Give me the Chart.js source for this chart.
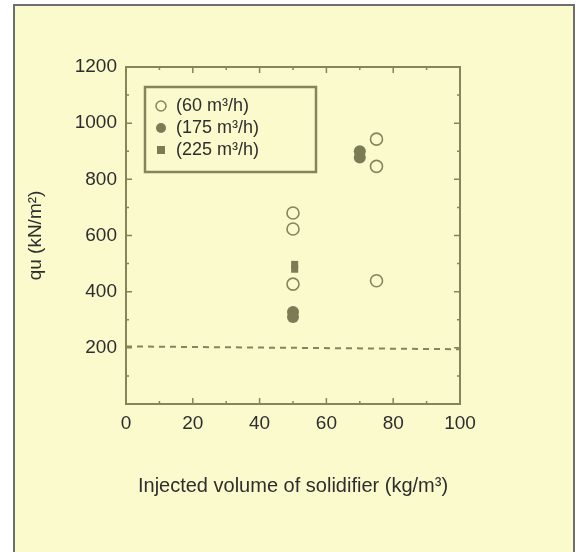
<!DOCTYPE html>
<html>
<head>
<meta charset="utf-8">
<script src="https://cdn.jsdelivr.net/npm/chart.js@4"></script>
<style>
  html, body { margin: 0; padding: 0; background: #ffffff; }
  #frame {
    position: absolute; left: 13px; top: 4px; width: 558px; height: 560px;
    background: #fafacd; border: 2px solid #6e6e6e; border-bottom: none;
  }
  #wrap { position: absolute; left: 0; top: 0; width: 579px; height: 552px; }
</style>
</head>
<body>
<div id="frame"></div>
<div id="wrap"><canvas id="qu" width="579" height="552"></canvas></div>
<script>
    // valeurs
    const xTicks = [0, 20, 40, 60, 80, 100];
    const yTicks = [200, 400, 600, 800, 1000, 1200];

    const labels60 = "(60 m³/h)";
    const x60 = [75, 75, 50, 50, 50, 75];
    const y60 = [943, 846, 680, 623, 427, 439];

    const labels175 = "(175 m³/h)";
    const x175 = [70, 70, 50, 50];
    const y175 = [900, 878, 328, 310];

    const labels225 = "(225 m³/h)";
    const x225 = [50.5, 50.5];
    const y225 = [497, 480];

    const limiteX = [0, 100];
    const limiteY = [205, 195];

    const olive = "#85855b";
    const dark = "#7b7b55";
    const textColor = "#2e2e2e";
    const police = "'Liberation Sans', Arial, sans-serif";

    function points(xs, ys) {
        let res = [];
        for (let i = 0; i < xs.length; i++) {
            res.push({ x: xs[i], y: ys[i] });
        }
        return res;
    }

    // cadre + graduations vers l'intérieur sur les 4 côtés
    const cadre = {
        id: "cadre",
        afterDatasetsDraw(chart) {
            const ctx = chart.ctx;
            const a = chart.chartArea;
            const sx = chart.scales.x;
            const sy = chart.scales.y;
            ctx.save();
            ctx.strokeStyle = olive;
            ctx.lineWidth = 2;
            ctx.strokeRect(a.left, a.top, a.right - a.left, a.bottom - a.top);
            ctx.lineWidth = 1.5;
            ctx.beginPath();
            for (let v = 0; v <= 100; v += 10) {
                let px = sx.getPixelForValue(v);
                let l = (v % 20 === 0) ? 6 : 3;
                ctx.moveTo(px, a.bottom); ctx.lineTo(px, a.bottom - l);
                ctx.moveTo(px, a.top); ctx.lineTo(px, a.top + l);
            }
            for (let v = 0; v <= 1200; v += 100) {
                let py = sy.getPixelForValue(v);
                let l = (v % 200 === 0) ? 6 : 3;
                ctx.moveTo(a.left, py); ctx.lineTo(a.left + l, py);
                ctx.moveTo(a.right, py); ctx.lineTo(a.right - l, py);
            }
            ctx.stroke();

            // légende dans un cadre
            ctx.lineWidth = 2.5;
            ctx.strokeRect(145, 87, 171, 85);
            const items = [
                { label: labels60, style: "circle", fill: false },
                { label: labels175, style: "circle", fill: true },
                { label: labels225, style: "rect", fill: true }
            ];
            ctx.font = "18px " + police;
            ctx.textBaseline = "middle";
            for (let i = 0; i < items.length; i++) {
                let y = 106 + i * 22;
                ctx.beginPath();
                if (items[i].style === "circle") {
                    ctx.arc(161, y, 5, 0, Math.PI * 2);
                } else {
                    ctx.rect(157, y - 4, 8, 8);
                }
                if (items[i].fill) {
                    ctx.fillStyle = dark;
                    ctx.fill();
                } else {
                    ctx.lineWidth = 1.5;
                    ctx.strokeStyle = olive;
                    ctx.stroke();
                }
                ctx.fillStyle = textColor;
                ctx.fillText(items[i].label, 176, y);
            }
            ctx.restore();
        }
    };

    const chart = new Chart(document.getElementById("qu"), {
        type: "scatter",
        data: {
            datasets: [
                {
                    label: labels60,
                    data: points(x60, y60),
                    pointStyle: "circle",
                    pointRadius: 6,
                    pointBorderWidth: 1.6,
                    borderColor: olive,
                    backgroundColor: "rgba(0,0,0,0)"
                },
                {
                    label: labels175,
                    data: points(x175, y175),
                    pointStyle: "circle",
                    pointRadius: 6,
                    pointBorderWidth: 0,
                    borderColor: dark,
                    backgroundColor: dark
                },
                {
                    label: labels225,
                    data: points(x225, y225),
                    pointStyle: "rect",
                    pointRadius: 5,
                    pointBorderWidth: 0,
                    borderColor: dark,
                    backgroundColor: dark
                },
                {
                    label: "limite",
                    type: "line",
                    data: points(limiteX, limiteY),
                    borderColor: olive,
                    borderWidth: 2,
                    borderDash: [6, 5],
                    pointRadius: 0,
                    fill: false
                }
            ]
        },
        options: {
            responsive: false,
            animation: false,
            devicePixelRatio: 1,
            layout: { padding: { left: 24, right: 119, top: 67, bottom: 54 } },
            plugins: {
                legend: { display: false },
                tooltip: { enabled: false }
            },
            scales: {
                x: {
                    type: "linear",
                    min: 0,
                    max: 100,
                    afterBuildTicks: (s) => { s.ticks = xTicks.map(v => ({ value: v })); },
                    afterFit: (s) => { s.height = 94; },
                    grid: { display: false, drawTicks: false },
                    border: { display: false },
                    ticks: {
                        color: textColor,
                        padding: 8,
                        callback: (v) => String(v),
                        font: { family: police, size: 19 }
                    },
                    title: {
                        display: true,
                        text: "Injected volume of solidifier (kg/m³)",
                        color: textColor,
                        padding: { top: 0, bottom: 0 },
                        font: { family: police, size: 20 }
                    }
                },
                y: {
                    type: "linear",
                    min: 0,
                    max: 1200,
                    afterBuildTicks: (s) => { s.ticks = yTicks.map(v => ({ value: v })); },
                    afterFit: (s) => { s.width = 102; },
                    grid: { display: false, drawTicks: false },
                    border: { display: false },
                    ticks: {
                        color: textColor,
                        padding: 9,
                        callback: (v) => String(v),
                        font: { family: police, size: 19 }
                    },
                    title: {
                        display: true,
                        text: "qu (kN/m²)",
                        color: textColor,
                        padding: { top: 0, bottom: 0 },
                        font: { family: police, size: 19 }
                    }
                }
            }
        },
        plugins: [cadre]
    });
</script>
</body>
</html>
